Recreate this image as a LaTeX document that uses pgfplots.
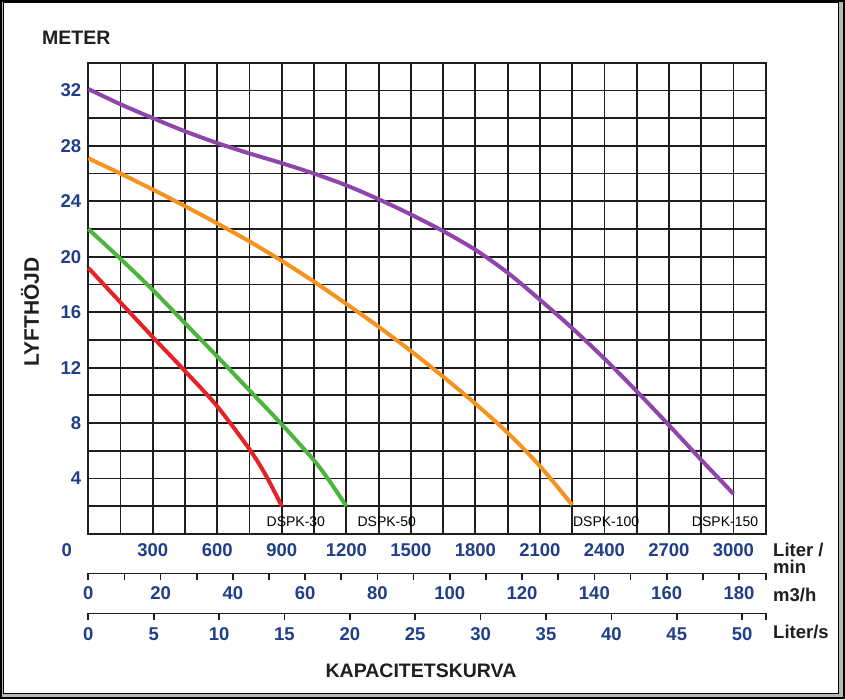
\documentclass[border=0pt]{standalone}
\usepackage{fontspec}
\setmainfont{Liberation Sans}
\usepackage{pgfplots}
\pgfplotsset{compat=1.18}

\definecolor{lblblue}{RGB}{32,62,138}
\definecolor{cred}{RGB}{228,34,40}
\definecolor{cgreen}{RGB}{76,181,62}
\definecolor{corange}{RGB}{246,146,30}
\definecolor{cpurple}{RGB}{142,70,170}
\definecolor{gridc}{RGB}{30,30,30}

\pgfplotsset{
  ticklbl/.style={font=\fontsize{18.5}{20}\selectfont\bfseries, text=lblblue, inner sep=0pt},
  scalebar/.style={
    scale only axis, width=677.4pt, height=20pt,
    anchor=south west,
    axis x line*=bottom, axis y line=none,
    axis line style={line width=1.6pt, color=gridc},
    ymin=0, ymax=1,
    tick align=outside, major tick length=7pt, minor tick length=7pt,
    every tick/.style={line width=1.7pt, color=gridc},
    /pgf/number format/assume math mode=true,
  },
}

\begin{document}
\begin{tikzpicture}[x=1pt,y=1pt]
\useasboundingbox (0,0) rectangle (845,699);
% frame with shadow
\fill[gray!55] (0,0) rectangle (845,699);
\draw[black, line width=1.6pt] (0.8,0.8) rectangle (844.2,698.2);
\fill[white] (3.5,5.7) rectangle (838.3,697.2);
\draw[black, line width=1.6pt] (3.5,5.7) rectangle (838.3,697.2);

\begin{axis}[
  at={(88.3pt,165pt)}, anchor=south west,
  scale only axis, width=677.4pt, height=471.3pt,
  xmin=0, xmax=3150, ymin=0, ymax=34,
  xtick={300,600,...,3000}, ytick={4,8,...,32},
  minor xtick={0,150,...,3150}, minor ytick={0,2,...,34},
  grid=both,
  major grid style={line width=1.8pt, color=gridc},
  minor grid style={line width=1.8pt, color=gridc},
  major tick length=0pt, minor tick length=0pt,
  axis line style={line width=1.8pt, color=gridc},
  xticklabel style={ticklbl, anchor=center, yshift=-16pt},
  yticklabel style={ticklbl, anchor=east, xshift=-7pt},
  /pgf/number format/assume math mode=true,
  /pgf/number format/1000 sep={},
  clip=false,
]
% DSPK-30
\addplot[cred, line width=4pt, smooth] coordinates {
  (0,19.2) (150,16.7) (300,14.2) (450,11.75) (600,9.2) (750,6.1) (825,4.25) (900,2)
};
% DSPK-50
\addplot[cgreen, line width=4pt, smooth] coordinates {
  (0,22) (150,19.85) (300,17.6) (450,15.2) (600,12.8) (750,10.35) (900,7.9) (1050,5.3) (1125,3.75) (1200,2)
};
% DSPK-100
\addplot[corange, line width=4pt, smooth] coordinates {
  (0,27.1) (150,26.0) (300,24.85) (450,23.65) (600,22.4) (750,21.1) (900,19.7)
  (1050,18.2) (1200,16.6) (1350,14.95) (1500,13.2) (1650,11.35) (1800,9.4)
  (1950,7.3) (2100,4.9) (2250,2.1)
};
% DSPK-150
\addplot[cpurple, line width=4pt, smooth] coordinates {
  (0,32.1) (150,31.0) (300,30.0) (450,29.05) (600,28.2) (750,27.45) (900,26.75) (1050,26.0)
  (1200,25.15) (1350,24.15) (1500,23.05) (1650,21.85) (1800,20.5) (1950,18.85)
  (2100,16.9) (2250,14.85) (2400,12.65) (2550,10.3) (2700,7.85) (2850,5.35) (3000,2.9)
};
\node[font=\fontsize{14}{16}\selectfont, inner sep=0pt] at (axis cs:965,0.87) {DSPK-30};
\node[font=\fontsize{14}{16}\selectfont, inner sep=0pt] at (axis cs:1388,0.87) {DSPK-50};
\node[font=\fontsize{14}{16}\selectfont, inner sep=0pt] at (axis cs:2408,0.87) {DSPK-100};
\node[font=\fontsize{14}{16}\selectfont, inner sep=0pt] at (axis cs:2961,0.87) {DSPK-150};
\end{axis}

% m3/h scale
\begin{axis}[scalebar, at={(88.3pt,125.7pt)},
  xmin=0, xmax=187.4,
  xtick={0,20,...,180}, minor xtick={10,30,...,170,187.4},
  xticklabel style={ticklbl, anchor=center, yshift=-12.7pt}]
\end{axis}
% Liter/s scale
\begin{axis}[scalebar, at={(88.3pt,85.7pt)},
  xmin=0, xmax=51.8,
  xtick={0,5,...,50}, minor xtick={51.8},
  xticklabel style={ticklbl, anchor=center, yshift=-14pt}]
\end{axis}

% texts
\node[font=\fontsize{19.5}{21}\selectfont\bfseries, text=black!88, anchor=base, inner sep=0pt] at (76.3,654) {METER};
\node[font=\fontsize{21}{23}\selectfont\bfseries, text=black!88, rotate=90, inner sep=0pt] at (30,387) {LYFTHÖJD};
\node[font=\fontsize{19.5}{21}\selectfont\bfseries, text=black!88, anchor=base, inner sep=0pt] at (421,21.7) {KAPACITETSKURVA};
\node[font=\fontsize{18.5}{20}\selectfont\bfseries, text=lblblue, anchor=base, inner sep=0pt] at (66.7,142.4) {0};
\begin{scope}[every node/.style={font=\fontsize{18.5}{20}\selectfont\bfseries, text=black!88, anchor=base west, inner sep=0pt}]
\node at (773,143) {Liter /};
\node at (773,125.5) {min};
\node at (773,97.5) {m3/h};
\node at (773,60.7) {Liter/s};
\end{scope}
\end{tikzpicture}
\end{document}
